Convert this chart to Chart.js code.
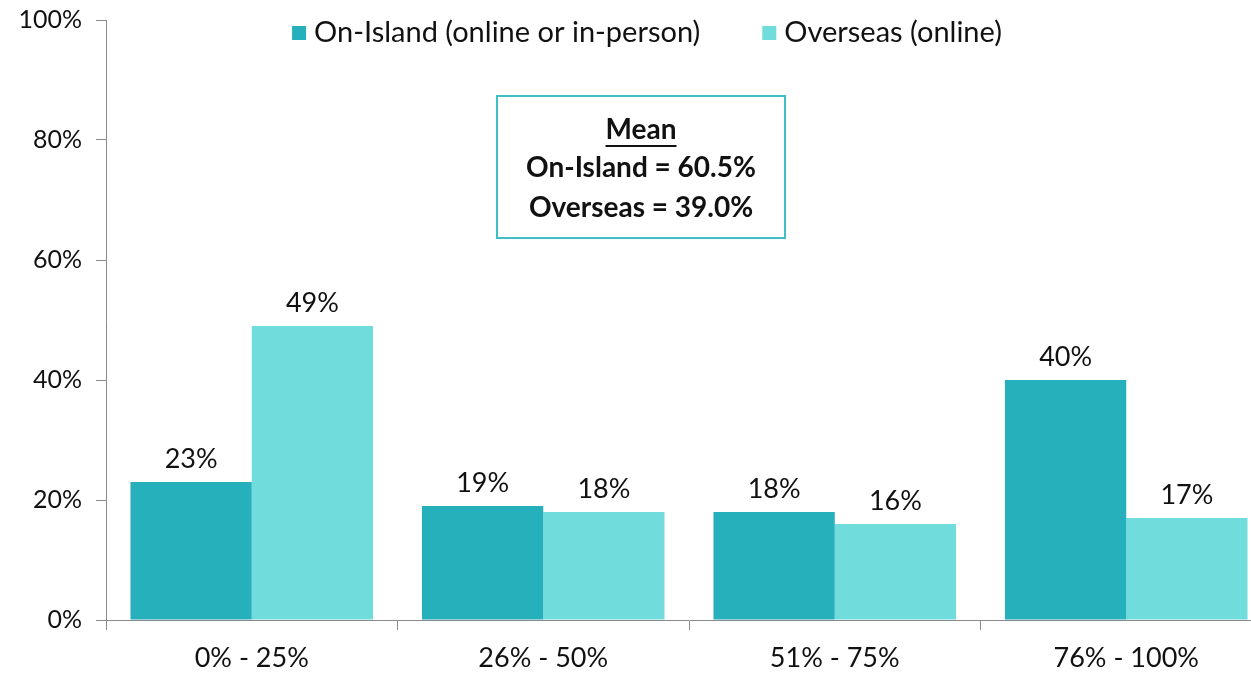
<!DOCTYPE html>
<html>
<head>
<meta charset="utf-8">
<script src="https://cdn.jsdelivr.net/npm/chart.js@4/dist/chart.umd.min.js"></script>
<style>
    html, body { margin: 0; padding: 0; background: #fff; overflow: hidden; }
    #wrap { width: 1251px; height: 675px; overflow: hidden; }
    #chart { display: block; }
</style>
</head>
<body>
<div id="wrap"><canvas id="chart" width="1272" height="675"></canvas></div>
<script>
const categories = ['0% - 25%', '26% - 50%', '51% - 75%', '76% - 100%'];
const onIsland = [23, 19, 18, 40];
const overseas = [49, 18, 16, 17];
const seriesNames = ['On-Island (online or in-person)', 'Overseas (online)'];
const meanLines = ['Mean', 'On-Island = 60.5%', 'Overseas = 39.0%'];

const FONT = 'Lato, "Open Sans", sans-serif';

// values printed above each bar
const barLabels = {
    id: 'barLabels',
    afterDatasetsDraw(chart) {
        const ctx = chart.ctx;
        ctx.save();
        ctx.font = '27px ' + FONT;
        ctx.fillStyle = '#111';
        ctx.textAlign = 'center';
        ctx.textBaseline = 'bottom';
        chart.data.datasets.forEach((ds, i) => {
            chart.getDatasetMeta(i).data.forEach((bar, j) => {
                ctx.fillText(ds.data[j] + '%', bar.x, bar.y - 9);
            });
        });
        ctx.restore();
    }
};

// legend across the top, drawn over the plot area
const topLegend = {
    id: 'topLegend',
    afterDraw(chart) {
        const ctx = chart.ctx;
        const area = chart.chartArea;
        ctx.save();
        ctx.font = '29px ' + FONT;
        ctx.textBaseline = 'middle';
        const box = 14, gap = 8, between = 62;
        const widths = chart.data.datasets.map(ds => box + gap + ctx.measureText(ds.label).width);
        const total = widths.reduce((a, b) => a + b, 0) + between;
        let x = area.left + 541 - total / 2;
        const y = area.top + 13;
        chart.data.datasets.forEach((ds, i) => {
            ctx.fillStyle = ds.backgroundColor;
            ctx.fillRect(x, y - box / 2, box, box);
            ctx.fillStyle = '#111';
            ctx.fillText(ds.label, x + box + gap, y);
            x += widths[i] + between;
        });
        ctx.restore();
    }
};

// the "Mean" box
const meanBox = {
    id: 'meanBox',
    afterDraw(chart) {
        const ctx = chart.ctx;
        const area = chart.chartArea;
        const left = area.left + 391, top = area.top + 76;
        const w = 288, h = 142;
        const cx = left + w / 2;
        ctx.save();
        ctx.strokeStyle = '#3dbfc4';
        ctx.lineWidth = 2;
        ctx.strokeRect(left, top, w, h);
        ctx.font = 'bold 28px ' + FONT;
        ctx.fillStyle = '#111';
        ctx.textAlign = 'center';
        ctx.textBaseline = 'middle';
        const ys = [top + 34, top + 72, top + 112];
        meanLines.forEach((t, i) => ctx.fillText(t, cx, ys[i]));
        const mw = ctx.measureText(meanLines[0]).width;
        ctx.fillRect(cx - mw / 2, ys[0] + 15, mw, 2);
        ctx.restore();
    }
};

new Chart(document.getElementById('chart'), {
    type: 'bar',
    data: {
        labels: categories,
        datasets: [
            {
                label: seriesNames[0],
                data: onIsland,
                backgroundColor: '#25b0bc'
            },
            {
                label: seriesNames[1],
                data: overseas,
                backgroundColor: '#70dcdb'
            }
        ]
    },
    options: {
        responsive: false,
        animation: false,
        layout: { padding: { top: 20, left: 0, right: 0, bottom: 0 } },
        datasets: {
            bar: { categoryPercentage: 0.832, barPercentage: 1.0 }
        },
        plugins: {
            tooltip: { enabled: false },
            legend: { display: false }
        },
        scales: {
            x: {
                grid: {
                    display: true,
                    drawOnChartArea: false,
                    tickLength: 10,
                    color: '#8a8a8a',
                    offset: true
                },
                border: { color: '#8a8a8a', width: 1 },
                ticks: {
                    color: '#111',
                    padding: 12,
                    font: { family: FONT, size: 27 }
                },
                afterFit(scale) {
                    scale.height = 55;
                    scale.paddingLeft = 0;
                    scale.paddingRight = 0;
                }
            },
            y: {
                min: 0,
                max: 100,
                grid: {
                    display: true,
                    drawOnChartArea: false,
                    tickLength: 10,
                    color: '#8a8a8a'
                },
                border: { color: '#8a8a8a', width: 1 },
                ticks: {
                    stepSize: 20,
                    color: '#111',
                    padding: 14,
                    font: { family: FONT, size: 25 },
                    callback: v => v + '%'
                },
                afterFit(scale) {
                    scale.width = 106;
                    scale.paddingTop = 0;
                    scale.paddingBottom = 0;
                }
            }
        }
    },
    plugins: [barLabels, topLegend, meanBox]
});
</script>
</body>
</html>
